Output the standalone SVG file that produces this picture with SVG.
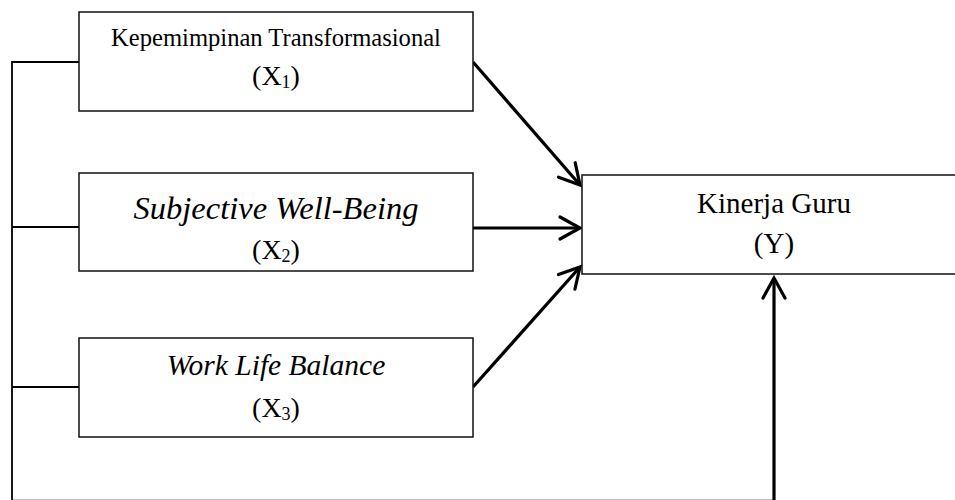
<svg xmlns="http://www.w3.org/2000/svg" width="955" height="500" viewBox="0 0 955 500">
<style>
.box{fill:#fff;stroke:#111;stroke-width:1.5}
.t{font-family:"Liberation Serif","Times New Roman",serif;fill:#000;text-anchor:middle}
.it{font-style:italic}
.bus{fill:none;stroke:#000;stroke-width:1.8}
.arr{fill:none;stroke:#000;stroke-width:3.2;marker-end:url(#ah)}
</style>
<defs>
<marker id="ah" markerUnits="userSpaceOnUse" viewBox="-24 -14 28 28" markerWidth="28" markerHeight="28" refX="0" refY="0" orient="auto">
<path d="M-20,-11 L0,0 L-20,11" fill="none" stroke="#000" stroke-width="3.2" stroke-linecap="round" stroke-linejoin="miter"/>
</marker>
</defs>
<g id="connectors">
<path class="bus" d="M79,62 H12 V500.7 H774"/>
<path class="bus" d="M12,227 H79"/>
<path class="bus" d="M12,387 H79"/>
<line class="arr" x1="473" y1="62" x2="580" y2="185"/>
<line class="arr" x1="473" y1="228" x2="580" y2="228"/>
<line class="arr" x1="473" y1="387" x2="580" y2="267"/>
<line class="arr" x1="774" y1="501" x2="774" y2="278"/>
</g>
<g id="x1">
<rect class="box" x="79" y="12" width="394" height="99"/>
<text class="t" x="276" y="46" font-size="24.6">Kepemimpinan Transformasional</text>
<text class="t" x="276" y="85" font-size="28">(X<tspan font-size="18" dy="3">1</tspan><tspan dy="-3">)</tspan></text>
</g>
<g id="x2">
<rect class="box" x="79" y="173" width="394" height="98"/>
<text class="t it" x="276" y="219" font-size="32.5">Subjective Well-Being</text>
<text class="t" x="276" y="259" font-size="28">(X<tspan font-size="18" dy="3">2</tspan><tspan dy="-3">)</tspan></text>
</g>
<g id="x3">
<rect class="box" x="79" y="338" width="394" height="99"/>
<text class="t it" x="276" y="375" font-size="29.5">Work Life Balance</text>
<text class="t" x="276" y="417" font-size="28">(X<tspan font-size="18" dy="3">3</tspan><tspan dy="-3">)</tspan></text>
</g>
<g id="y">
<rect class="box" x="582" y="175" width="400" height="99"/>
<text class="t" x="774" y="213" font-size="29">Kinerja Guru</text>
<text class="t" x="774" y="253" font-size="29">(Y)</text>
</g>
</svg>
